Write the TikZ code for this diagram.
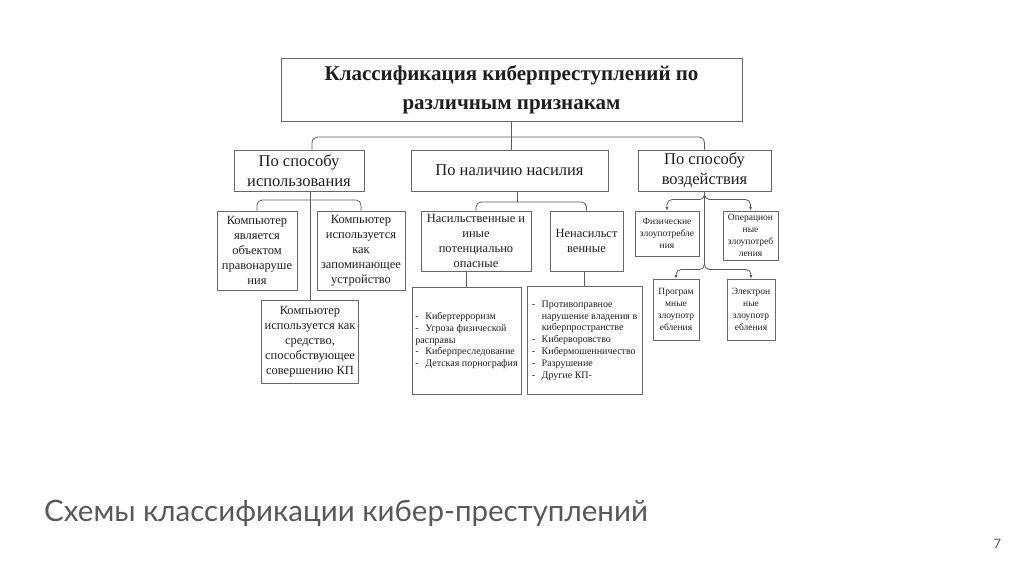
\documentclass[tikz,border=0pt]{standalone}
\usepackage{fontspec}
\setmainfont{Liberation Serif}
\newfontfamily\capfont{Lato}
\usetikzlibrary{arrows.meta, positioning, calc}

\definecolor{linegray}{HTML}{5C5C5C}
\definecolor{boxgray}{HTML}{686868}
\definecolor{textgray}{HTML}{1E1E1E}
\definecolor{capgray}{HTML}{595959}

% list item marks
\newcommand{\li}{\makebox[10pt][l]{-}}
\newcommand{\lc}{\hspace*{10pt}}

\begin{document}
\begin{tikzpicture}[
		x=1pt, y=-1pt,
		box/.style={rectangle, draw=boxgray, line width=0.9pt, inner sep=1pt, align=center, text=textgray},
		titlebox/.style={box, minimum width=461pt, minimum height=63pt, font=\fontsize{21}{29}\selectfont\bfseries},
		catbox/.style={box, minimum height=41pt, font=\fontsize{16.5}{20}\selectfont},
		subbox/.style={box, font=\fontsize{12.5}{15}\selectfont},
		listbox/.style={box, align=left, inner xsep=2pt, font=\fontsize{10}{11.8}\selectfont},
		smallbox/.style={box, font=\fontsize{9.5}{11.8}\selectfont},
		conn/.style={draw=linegray, line width=0.8pt},
		arr/.style={conn, -{Latex[length=3.5pt, width=3pt]}}
	]
	\useasboundingbox (0,0) rectangle (1024,574);

	% Title
	\node [titlebox] (title) at (511.5,89.5) {Классификация киберпреступлений по\\различным признакам};

	% Criteria
	\node [catbox, minimum width=130pt] (use) at (299,170.5) {По способу\\использования};
	\node [catbox, minimum width=197pt] (force) at (509.5,170.5) {По наличию насилия};
	\node [catbox, minimum width=133pt] (act) at (704.5,170.5) {По способу\\воздействия};

	% By use
	\node [subbox, minimum width=80pt, minimum height=79pt] (object) at (257,250.5) {Компьютер\\является\\объектом\\правонаруше\\ния};
	\node [subbox, minimum width=88pt, minimum height=79pt] (storage) at (361,250.5) {Компьютер\\используется\\как\\запоминающее\\устройство};
	\node [subbox, minimum width=97pt, minimum height=83pt] (means) at (310,341.5) {Компьютер\\используется как\\средство,\\способствующее\\совершению КП};

	% By violence
	\node [subbox, minimum width=110pt, minimum height=60pt] (violent) at (476,241) {Насильственные и\\иные\\потенциально\\опасные};
	\node [subbox, minimum width=73pt, minimum height=60pt] (nonviolent) at (586.5,241) {Ненасильст\\венные};
	\node [listbox, minimum width=109pt, minimum height=107pt] (vlist) at (466.5,340.5) {\li Кибертерроризм\\\li Угроза физической\\расправы\\\li Киберпреследование\\\li Детская порнография};
	\node [listbox, minimum width=115pt, minimum height=108pt] (nvlist) at (584.5,340.5) {\li Противоправное\\\lc нарушение владения в\\\lc киберпространстве\\\li Киберворовство\\\li Кибермошенничество\\\li Разрушение\\\li Другие КП-};

	% By impact
	\node [smallbox, minimum width=64pt, minimum height=45pt] (phys) at (667,233.5) {Физические\\злоупотребле\\ния};
	\node [smallbox, minimum width=55pt, minimum height=49pt] (oper) at (750.5,235.5) {Операцион\\ные\\злоупотреб\\ления};
	\node [smallbox, minimum width=46pt, minimum height=61pt] (prog) at (676,309.5) {Програм\\мные\\злоупотр\\ебления};
	\node [smallbox, minimum width=48pt, minimum height=61pt] (elec) at (751,309.5) {Электрон\\ные\\злоупотр\\ебления};

	% Edges
	\path [conn] (title.south) -- (title.south |- force.north);
	\path [conn, rounded corners=6] ([xshift=13pt]use.north) |- (title.south |- 0,137) -| (act.north);

	\path [conn] (use.south -| means.north) -- (means.north);
	\path [conn, rounded corners=5] (object.north) |- (means.north |- 0,200) -| (storage.north);

	\path [conn] (force.south -| 517,0) -- (517,202);
	\path [conn, rounded corners=5] (violent.north) |- (517,202) -| (nonviolent.north);
	\path [conn] (vlist.north) -- (vlist.north |- violent.south);
	\path [conn] (nvlist.north) -- (nvlist.north |- nonviolent.south);

	\path [arr, rounded corners=5] (act.south) |- ([yshift=11pt]phys.north) -- (phys.north);
	\path [arr, rounded corners=5] (act.south) |- ([yshift=11pt]oper.north) -- (oper.north);
	\path [arr, rounded corners=5] (act.south) |- ([yshift=9pt]prog.north) -- (prog.north);
	\path [arr, rounded corners=5] (act.south) |- ([yshift=9pt]elec.north) -- (elec.north);

	% Slide caption
	\node [anchor=base west, inner sep=0pt, text=capgray, font=\capfont\fontsize{29.5}{35}\selectfont] (caption) at (44,521) {Схемы классификации кибер-преступлений};
	\node [anchor=base, inner sep=0pt, text=capgray, font=\capfont\fontsize{13}{15}\selectfont] (page) at (997.5,548) {7};

\end{tikzpicture}
\end{document}
